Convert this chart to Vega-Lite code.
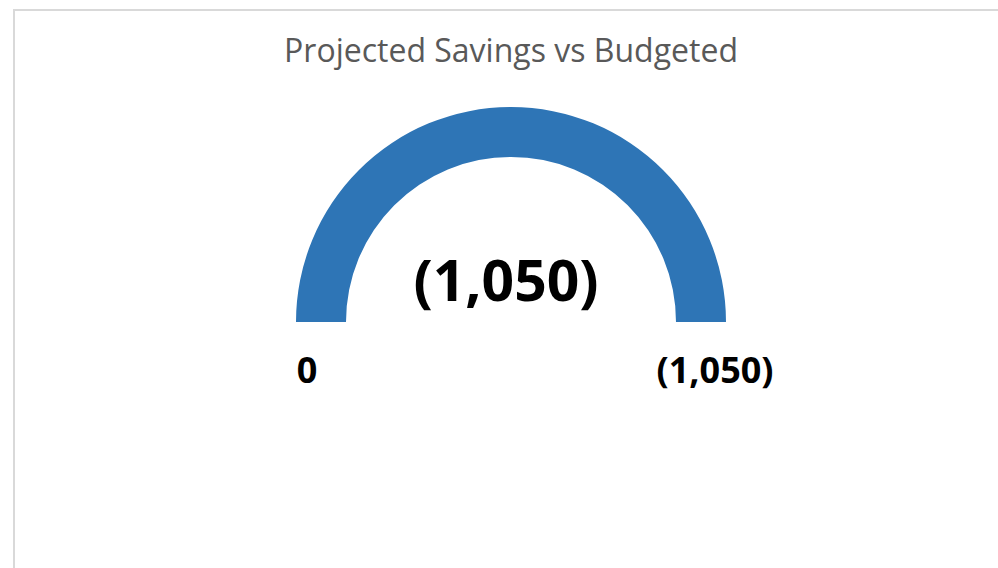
{
  "$schema": "https://vega.github.io/schema/vega-lite/v6.json",
  "width": 994,
  "height": 624,
  "autosize": {"type": "none"},
  "padding": {"left": 14, "top": 10, "right": 0, "bottom": 0},
  "background": "white",
  "view": {"stroke": "#d9d9d9", "strokeWidth": 2},
  "config": {"view": {"stroke": "#d9d9d9", "strokeWidth": 2}},
  "title": {"text": "Projected Savings vs Budgeted", "font": "Open Sans", "fontSize": 32, "fontWeight": "normal", "color": "#595959", "anchor": "middle", "offset": -84, "baseline": "alphabetic"},
  "datasets": {
    "gauge": [{"measure": "Projected Savings", "value": -1050}],
    "ends": [{"end": "min", "value": 0}, {"end": "max", "value": -1050}]
  },
  "layer": [
    {
      "data": {"name": "gauge"},
      "mark": {"type": "arc", "innerRadius": 165, "outerRadius": 215, "color": "#2E75B6"},
      "encoding": {
        "theta": {"field": "value", "type": "quantitative", "scale": {"domain": [0, -1050], "range": [-1.5708, 1.5708]}}
      }
    },
    {
      "data": {"name": "gauge"},
      "mark": {"type": "text", "font": "Open Sans", "fontWeight": "bold", "fontSize": 57, "color": "black", "baseline": "alphabetic", "dy": -21, "dx": -5},
      "encoding": {
        "text": {"field": "value", "type": "quantitative", "format": "(,.0f"}
      }
    },
    {
      "data": {"name": "ends"},
      "mark": {"type": "text", "font": "Open Sans", "fontWeight": "bold", "fontSize": 36, "color": "black", "radius": 204, "baseline": "alphabetic", "dy": 61},
      "encoding": {
        "theta": {"field": "value", "type": "quantitative", "stack": null},
        "text": {"field": "value", "type": "quantitative", "format": "(,.0f"}
      }
    }
  ]
}
